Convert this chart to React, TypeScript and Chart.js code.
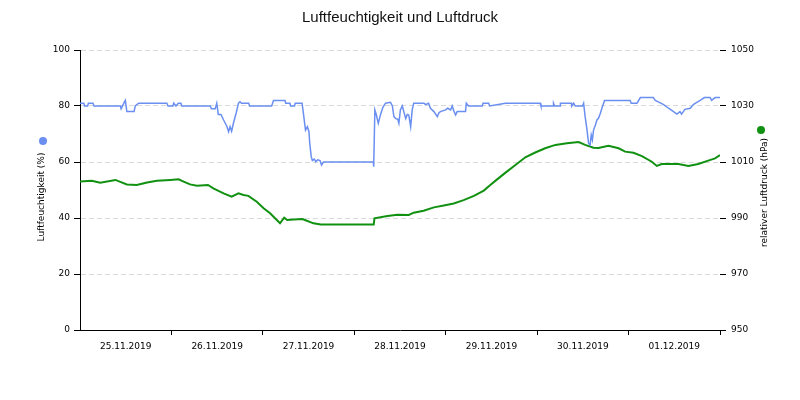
import React, { useEffect, useRef } from 'react';
import { Chart, registerables } from 'chart.js';

Chart.register(...registerables);

const chartTitle = 'Luftfeuchtigkeit und Luftdruck';
const humidityLabel = 'Luftfeuchtigkeit (%)';
const pressureLabel = 'relativer Luftdruck (hPa)';

const dayLabels = ['25.11.2019', '26.11.2019', '27.11.2019', '28.11.2019', '29.11.2019', '30.11.2019', '01.12.2019'];

// hours since 25.11.2019 00:00
const humidityHours = [
  0, 1.0, 1.2, 2.0, 2.2, 3.4, 3.7, 10.6, 10.8, 11.5, 11.9, 12.3, 14.2, 14.5, 15.4, 22.8, 23.1, 24.4, 24.6, 25.2,
  25.8, 26.5, 26.7, 34.2, 34.5, 35.5, 35.9, 36.3, 37.0, 37.7, 38.6, 39.0, 39.4, 39.8, 40.3, 41.0, 41.6, 42.0, 42.4, 44.3,
  44.5, 50.3, 50.8, 53.8, 54.0, 55.1, 55.3, 56.3, 56.5, 58.3, 58.8, 59.2, 59.7, 60.1, 60.3, 60.7, 61.0, 61.5, 61.9, 62.4,
  63.0, 63.4, 63.9, 77.0, 77.1, 77.4, 77.8, 78.3, 78.9, 79.5, 80.2, 81.5, 82.0, 82.4, 82.9, 83.4, 83.7, 84.1, 84.6, 85.0,
  85.5, 85.9, 86.3, 86.8, 87.2, 87.6, 90.3, 90.7, 91.5, 92.0, 92.9, 93.8, 94.2, 94.6, 96.0, 96.5, 97.3, 97.7, 98.2, 98.6,
  99.0, 101.2, 101.4, 102.0, 105.6, 105.8, 107.3, 107.5, 111.7, 120.8, 121.0, 124.2, 124.3, 124.6, 126.0, 126.1, 129.0, 129.1, 129.6, 130.0,
  131.9, 132.2, 132.6, 133.1, 133.5, 133.9, 134.2, 134.5, 134.8, 135.3, 135.7, 136.1, 136.6, 137.0, 137.7, 144.4, 144.7, 146.2, 147.1, 150.5,
  151.0, 151.8, 153.2, 154.5, 155.8, 156.7, 157.5, 157.9, 158.8, 160.2, 161.0, 161.9, 162.8, 163.9, 165.4, 165.8, 166.7, 168.0,
];
const humidityValues = [
  81, 81, 80, 80, 81, 81, 80, 80, 79, 81, 82, 78, 78, 80, 81, 81, 80, 80, 81, 80,
  81, 81, 80, 80, 79, 79, 81, 77, 77, 75, 72.6, 70.8, 72.6, 71, 74, 77.5, 81, 81.5, 81, 81,
  80, 80, 82, 82, 81, 81, 80, 80, 81, 81, 75.7, 71.4, 72.6, 70.8, 66.8, 61.9, 60.5, 61, 60.1, 60.8,
  60.5, 58.9, 60, 60, 58.3, 78.6, 76.8, 73.8, 77, 79.5, 81, 81.3, 80, 76.2, 75.5, 75.3, 73.8, 78.6, 80, 78,
  75.5, 77, 76.8, 72.6, 78.6, 81, 81, 80.5, 81, 79.2, 78, 76.2, 77.5, 78, 78.6, 79.2, 78.6, 80, 78, 76.8,
  78, 78, 81, 80, 80, 81, 81, 80, 81, 81, 80, 80, 81, 80, 80, 81, 81, 80, 81, 80,
  80, 81, 76.2, 71.4, 66.7, 66.1, 69.6, 67.9, 71.4, 73.2, 75, 75.6, 77.4, 79.2, 82, 82, 81, 81, 83, 83,
  82, 81.5, 80.5, 79.2, 78, 77.1, 78, 77.1, 78.8, 79.2, 80.5, 81.3, 82, 83, 83, 82, 83, 83,
];

const pressureHours = [
  0, 3.1, 5.3, 9.3, 12.3, 14.9, 17.6, 20.2, 23.7, 25.9, 27.2, 28.9, 30.7, 33.6, 35.0, 37.7, 39.8, 41.6, 42.9, 44.2,
  46.4, 48.2, 49.9, 51.2, 52.5, 53.6, 54.4, 56.1, 58.4, 59.2, 61.3, 63.2, 77.1, 77.3, 80.7, 83.3, 86.3, 87.6, 90.2, 92.9,
  95.5, 98.1, 100.7, 103.4, 106.0, 107.7, 109.5, 111.7, 114.3, 116.9, 119.5, 122.1, 124.8, 127.8, 130.9, 132.6, 134.8, 136.1, 138.7, 141.4,
  143.1, 145.3, 147.5, 150.1, 151.4, 152.7, 157.1, 159.7, 162.3, 164.9, 166.7, 168.0,
];
const pressureValues = [
  1003.0, 1003.3, 1002.6, 1003.6, 1002.0, 1001.8, 1002.7, 1003.3, 1003.6, 1003.8, 1003.0, 1002.0, 1001.5, 1001.8, 1000.6, 998.8, 997.6, 998.8, 998.2, 997.9,
  995.8, 993.5, 991.7, 989.9, 988.1, 990.1, 989.3, 989.5, 989.6, 989.2, 988.1, 987.7, 987.7, 989.9, 990.7, 991.2, 991.1, 991.9, 992.6, 993.8,
  994.5, 995.2, 996.4, 997.9, 999.8, 1001.8, 1003.8, 1006.2, 1008.9, 1011.7, 1013.4, 1014.9, 1016.1, 1016.7, 1017.1, 1016.1, 1015.1, 1015.0, 1015.8, 1014.9,
  1013.7, 1013.3, 1012.1, 1010.1, 1008.6, 1009.3, 1009.3, 1008.6, 1009.3, 1010.5, 1011.3, 1012.5,
];

const BLUE = '#6a8ff0';
const GREEN = '#119111';
const TICK_FONT = { family: '"DejaVu Sans", sans-serif', size: 9 };

const axisTitlesPlugin = {
  id: 'axisTitlesWithDots',
  afterDraw(chart: any) {
    const { ctx, chartArea } = chart;
    const cy = (chartArea.top + chartArea.bottom) / 2;
    ctx.save();
    ctx.font = '9px "DejaVu Sans", sans-serif';
    ctx.fillStyle = '#000';
    ctx.textAlign = 'center';
    ctx.textBaseline = 'middle';
    // left title
    ctx.save();
    ctx.translate(chartArea.left - 38, cy + 7);
    ctx.rotate(-Math.PI / 2);
    ctx.fillText(humidityLabel, 0, 0);
    ctx.restore();
    ctx.beginPath();
    ctx.arc(chartArea.left - 37, cy - 49, 4, 0, Math.PI * 2);
    ctx.fillStyle = BLUE;
    ctx.fill();
    // right title
    ctx.fillStyle = '#000';
    ctx.save();
    ctx.translate(chartArea.right + 44.5, cy + 2.5);
    ctx.rotate(-Math.PI / 2);
    ctx.fillText(pressureLabel, 0, 0);
    ctx.restore();
    ctx.beginPath();
    ctx.arc(chartArea.right + 41, cy - 60, 4, 0, Math.PI * 2);
    ctx.fillStyle = GREEN;
    ctx.fill();
    ctx.restore();
  },
};

export default function App() {
  const canvasRef = useRef<HTMLCanvasElement | null>(null);

  useEffect(() => {
    if (!canvasRef.current) return;
    const chart = new Chart(canvasRef.current, {
      type: 'line',
      data: {
        labels: dayLabels,
        datasets: [
          {
            label: humidityLabel,
            data: humidityHours.map((h, i) => ({ x: h, y: humidityValues[i] })),
            xAxisID: 'x',
            yAxisID: 'yH',
            borderColor: BLUE,
            backgroundColor: BLUE,
            borderWidth: 1.5,
            pointRadius: 0,
            tension: 0,
          },
          {
            label: pressureLabel,
            data: pressureHours.map((h, i) => ({ x: h, y: pressureValues[i] })),
            xAxisID: 'x',
            yAxisID: 'yP',
            borderColor: GREEN,
            backgroundColor: GREEN,
            borderWidth: 2,
            pointRadius: 0,
            tension: 0,
          },
        ],
      },
      options: {
        responsive: false,
        animation: false,
        layout: { padding: 0 },
        plugins: {
          legend: { display: false },
          tooltip: { enabled: false },
          title: {
            display: true,
            text: chartTitle,
            color: '#111',
            font: { family: '"Liberation Sans", sans-serif', size: 15, weight: 'normal' },
            padding: { top: 9, bottom: 23 },
          },
        },
        scales: {
          x: {
            type: 'linear',
            display: false,
            min: 0,
            max: 168,
          },
          xDays: {
            type: 'category',
            position: 'bottom',
            labels: dayLabels,
            offset: true,
            afterFit: (scale: any) => { scale.height = 70; },
            grid: {
              offset: true,
              drawOnChartArea: false,
              drawTicks: true,
              tickLength: 5,
              tickColor: (c: any) => (c.index === 0 ? 'rgba(0,0,0,0)' : '#000'),
              color: '#000',
            },
            border: { display: true, color: '#000', width: 1 },
            ticks: { color: '#000', font: TICK_FONT, padding: 6, maxRotation: 0, autoSkip: false },
          },
          yH: {
            type: 'linear',
            position: 'left',
            min: 0,
            max: 100,
            afterFit: (scale: any) => { scale.width = 80; },
            ticks: { stepSize: 20, color: '#000', font: TICK_FONT, padding: 4, callback: (v: any) => String(v) },
            grid: {
              color: (c: any) => (c.index === 0 ? 'rgba(0,0,0,0)' : '#dadada'),
              tickColor: '#000',
              tickLength: 6,
              tickBorderDash: [],
              drawTicks: true,
            },
            border: { display: true, color: '#000', width: 1, dash: [5, 3] },
          },
          yP: {
            type: 'linear',
            position: 'right',
            min: 950,
            max: 1050,
            afterFit: (scale: any) => { scale.width = 80; },
            ticks: { stepSize: 20, color: '#000', font: TICK_FONT, padding: 5, callback: (v: any) => String(v) },
            grid: {
              drawOnChartArea: false,
              tickColor: '#000',
              tickLength: 6,
              tickBorderDash: [],
            },
            border: { display: false },
          },
        },
      },
      plugins: [axisTitlesPlugin],
    });
    return () => chart.destroy();
  }, []);

  return (
    <div style={{ position: 'absolute', left: 0, top: 0, width: 800, height: 400 }}>
      <canvas ref={canvasRef} width={800} height={400} style={{ display: 'block' }} />
    </div>
  );
}
